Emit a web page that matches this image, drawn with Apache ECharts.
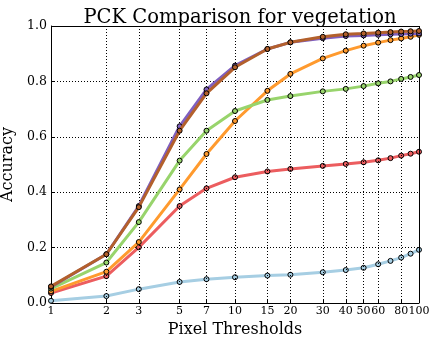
<!DOCTYPE html>
<html>
<head>
<meta charset="utf-8">
<script src="https://cdn.jsdelivr.net/npm/echarts@6/dist/echarts.min.js"></script>
<style>
  html, body { margin: 0; padding: 0; background: #fff; }
  #chart { width: 433px; height: 339px; }
</style>
</head>
<body>
<div id="chart"></div>
<script>
// Pixel thresholds at which accuracy was measured
const thresholds = [1, 2, 3, 5, 7, 10, 15, 20, 30, 40, 50, 60, 70, 80, 90, 100];
// Labelled ticks on the log x axis
const xTicks = [1, 2, 3, 5, 7, 10, 15, 20, 30, 40, 50, 60, 80, 100];
const yTicks = [0, 0.2, 0.4, 0.6, 0.8, 1.0];

// PCK curves, one per method
const methodA = [0.008, 0.025, 0.05, 0.076, 0.086, 0.093, 0.099, 0.102, 0.111, 0.119, 0.127, 0.140, 0.152, 0.164, 0.178, 0.192];
const methodB = [0.036, 0.097, 0.201, 0.350, 0.414, 0.454, 0.475, 0.484, 0.495, 0.502, 0.508, 0.515, 0.523, 0.532, 0.539, 0.546];
const methodC = [0.042, 0.113, 0.220, 0.410, 0.538, 0.657, 0.766, 0.827, 0.883, 0.911, 0.929, 0.940, 0.949, 0.955, 0.961, 0.968];
const methodD = [0.052, 0.146, 0.292, 0.514, 0.622, 0.693, 0.733, 0.747, 0.764, 0.773, 0.783, 0.793, 0.800, 0.809, 0.816, 0.823];
const methodE = [0.058, 0.176, 0.350, 0.638, 0.771, 0.857, 0.917, 0.941, 0.956, 0.964, 0.966, 0.968, 0.970, 0.971, 0.972, 0.973];
const methodF = [0.060, 0.176, 0.346, 0.622, 0.757, 0.851, 0.917, 0.941, 0.961, 0.970, 0.973, 0.976, 0.978, 0.980, 0.981, 0.982];

const curves = [
  { data: methodA, color: '#a6cee3' },
  { data: methodB, color: '#ec5d5f' },
  { data: methodC, color: '#ff9a2e' },
  { data: methodD, color: '#98d46c' },
  { data: methodE, color: '#7f5fbf' },
  { data: methodF, color: '#b3602c' }
];

const serif = 'DejaVu Serif';
const chart = echarts.init(document.getElementById('chart'), null, { renderer: 'canvas' });

const series = curves.map((c, i) => ({
  type: 'line',
  data: thresholds.map((t, k) => [t, c.data[k]]),
  symbol: 'circle',
  symbolSize: 5,
  z: 3 + i,
  lineStyle: { color: c.color, width: 3 },
  itemStyle: { color: c.color, borderColor: '#000', borderWidth: 1 },
  emphasis: { disabled: true },
  animation: false
}));

const dotted = { color: '#000', type: [1, 2], width: 1 };

chart.setOption({
  animation: false,
  title: {
    text: 'PCK Comparison for vegetation',
    left: 235,
    textAlign: 'center',
    top: 3,
    textStyle: { fontFamily: serif, fontSize: 19.5, fontWeight: 'normal', color: '#000' }
  },
  grid: { left: 51, right: 14, top: 26, bottom: 36, containLabel: false, outerBoundsMode: 'none' },
  xAxis: {
    type: 'log',
    logBase: 10,
    min: 1,
    max: 100,
    name: 'Pixel Thresholds',
    nameLocation: 'middle',
    nameGap: 19,
    nameTextStyle: { fontFamily: serif, fontSize: 16, color: '#000' },
    axisLine: { show: true, lineStyle: { color: '#000', width: 1 } },
    axisTick: { show: true, inside: true, length: 4, customValues: xTicks, lineStyle: { color: '#000' } },
    axisLabel: {
      customValues: xTicks, fontFamily: serif, fontSize: 11, color: '#000', margin: 3,
      hideOverlap: false, showMinLabel: true, showMaxLabel: true, formatter: v => String(v)
    },
    splitLine: { show: false },
    minorTick: { show: false }
  },
  yAxis: {
    type: 'value',
    min: 0,
    max: 1,
    interval: 0.2,
    name: 'Accuracy',
    nameLocation: 'middle',
    nameGap: 24,
    nameTextStyle: { fontFamily: serif, fontSize: 16, color: '#000' },
    axisLine: { show: true, lineStyle: { color: '#000', width: 1 } },
    axisTick: { show: true, inside: true, length: 4, lineStyle: { color: '#000' } },
    axisLabel: { fontFamily: serif, fontSize: 12.5, color: '#000', margin: 4, formatter: v => v.toFixed(1) },
    splitLine: { show: true, lineStyle: dotted }
  },
  series: [
    // vertical dotted grid at each labelled threshold
    {
      type: 'line',
      data: [],
      silent: true,
      markLine: {
        symbol: 'none',
        silent: true,
        label: { show: false },
        lineStyle: dotted,
        data: xTicks.slice(1, -1).map(v => ({ xAxis: v }))
      }
    },
    // frame: top and right borders
    {
      type: 'line',
      data: [],
      silent: true,
      markLine: {
        symbol: 'none',
        silent: true,
        label: { show: false },
        lineStyle: { color: '#000', type: 'solid', width: 1 },
        data: [{ yAxis: 1 }, { xAxis: 100 }]
      }
    }
  ].concat(series)
});
</script>
</body>
</html>
